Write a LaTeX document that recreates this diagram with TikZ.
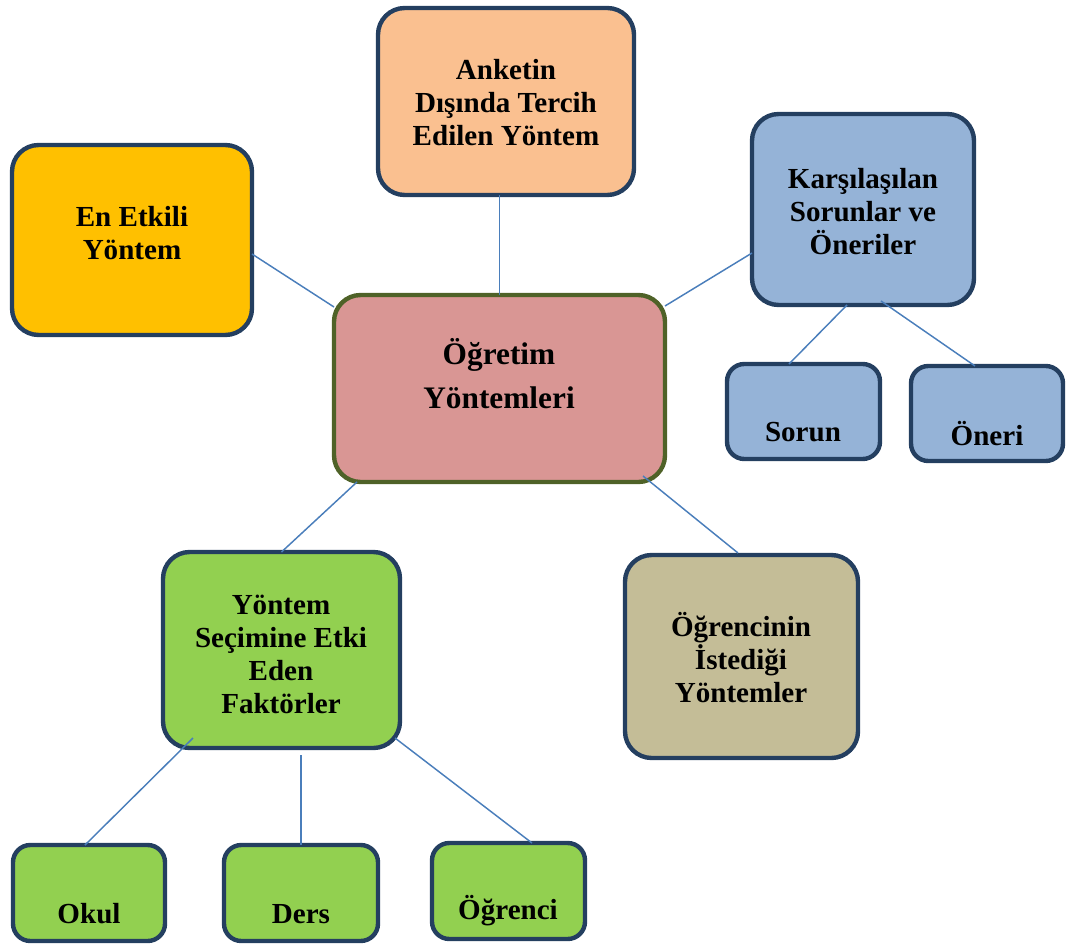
\documentclass[tikz,border=0pt]{standalone}
\usepackage{fontspec}
\setmainfont{Liberation Serif}
\usetikzlibrary{calc}
\definecolor{peach}{HTML}{FAC090}
\definecolor{gold}{HTML}{FFC000}
\definecolor{lblue}{HTML}{95B3D7}
\definecolor{pinkc}{HTML}{D99694}
\definecolor{greenc}{HTML}{92D050}
\definecolor{tanc}{HTML}{C4BD97}
\definecolor{navy}{HTML}{243F60}
\definecolor{olive}{HTML}{4F6228}
\definecolor{linec}{HTML}{4A7EBB}
\tikzset{
  box/.style={draw=navy, line width=3.3pt, rounded corners=20pt, inner sep=0pt, outer sep=0pt},
  sbox/.style={box, rounded corners=13pt},
  txt/.style={font=\fontsize{21.8}{24.75}\selectfont\bfseries, align=center, inner sep=0pt},
  conn/.style={draw=linec, line width=1.1pt}
}
\begin{document}
\begin{tikzpicture}[x=0.75pt,y=-0.75pt]
\useasboundingbox (0,0) rectangle (1067,945);
% boxes
\node[box, fill=peach, minimum width=192pt, minimum height=140.25pt] (ank) at (506,101.5) {};
\node[box, fill=gold, minimum width=180pt, minimum height=142.5pt] (ee) at (132,240) {};
\node[box, fill=lblue, minimum width=166.5pt, minimum height=143.25pt] (kar) at (863,209.5) {};
\node[box, draw=olive, fill=pinkc, minimum width=248.25pt, minimum height=140.25pt] (ctr) at (499.5,388.5) {};
\node[sbox, fill=lblue, minimum width=114.75pt, minimum height=71.25pt] (sor) at (803.5,411.5) {};
\node[sbox, fill=lblue, minimum width=114pt, minimum height=71.25pt] (one) at (987,413.5) {};
\node[box, fill=greenc, minimum width=177.75pt, minimum height=147pt] (ysf) at (281.5,650) {};
\node[box, fill=tanc, minimum width=174.75pt, minimum height=152.25pt] (ogi) at (741.5,656.5) {};
\node[sbox, fill=greenc, minimum width=114pt, minimum height=72pt] (oku) at (89,893) {};
\node[sbox, fill=greenc, minimum width=115.5pt, minimum height=72pt] (ders) at (301,893) {};
\node[sbox, fill=greenc, minimum width=114.75pt, minimum height=72pt] (ogr) at (508.5,891) {};
% texts
\node[txt] (ankT) at (506,103) {Anketin\\Dışında Tercih\\Edilen Yöntem};
\node[txt] (eeT) at (132,233) {En Etkili\\Yöntem};
\node[txt] (karT) at (863,212) {Karşılaşılan\\Sorunlar ve\\Öneriler};
\node[txt, font=\fontsize{23.5}{32.5}\selectfont\bfseries] (ctrT) at (499,373.5) {Öğretim\\Yöntemleri};
\node[txt] (sorT) at (803,432) {Sorun};
\node[txt] (oneT) at (987,434) {Öneri};
\node[txt] (ysfT) at (281,654) {Yöntem\\Seçimine Etki\\Eden\\Faktörler};
\node[txt] (ogiT) at (741,658) {Öğrencinin\\İstediği\\Yöntemler};
\node[txt] (okuT) at (89,914) {Okul};
\node[txt] (dersT) at (301,914) {Ders};
\node[txt] (ogrT) at (508,911) {Öğrenci};
% connectors
\draw[conn] (ank.south -| ctr.north) -- (ctr.north);
\draw[conn] ($(ee.east)+(0,14)$) -- ($(ctr.west)+(0,-81.5)$);
\draw[conn] ($(kar.west)+(0,43.5)$) -- ($(ctr.east)+(0,-82.5)$);
\draw[conn] ($(ctr.south)+(-142.5,0)$) -- (ysf.north);
\draw[conn] ($(ctr.south east)+(-22,-6)$) -- ($(ogi.north)+(-3.5,-2)$);
\draw[conn] ($(kar.south)+(-16,0)$) -- ($(sor.north)+(-14.5,0)$);
\draw[conn] ($(kar.south)+(18,-4)$) -- ($(one.north)+(-12,0)$);
\draw[conn] ($(ysf.south)+(-88.5,-10)$) -- ($(oku.north)+(-4,0)$);
\draw[conn] ($(ysf.south)+(19.5,7)$) -- (ders.north);
\draw[conn] ($(ysf.south east)+(-5,-10)$) -- ($(ogr.north)+(23.5,0)$);
\end{tikzpicture}
\end{document}
